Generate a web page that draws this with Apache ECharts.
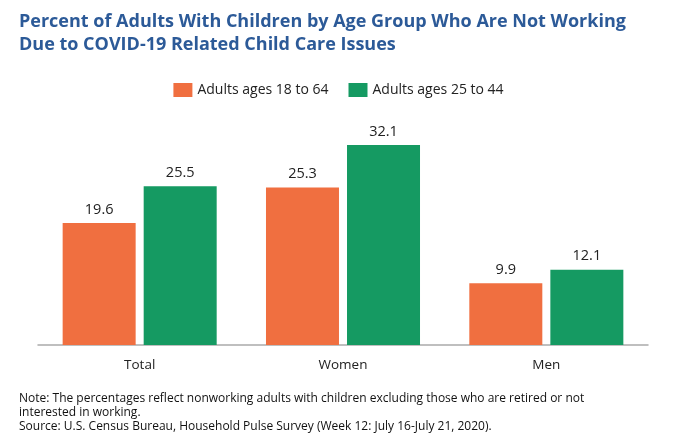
<!DOCTYPE html>
<html>
<head>
<meta charset="utf-8">
<script src="https://cdn.jsdelivr.net/npm/echarts@6/dist/echarts.min.js"></script>
<style>html,body{margin:0;padding:0;background:#fff;}#c{width:677px;height:437px;}</style>
</head>
<body>
<div id="c"></div>
<script>
const categories = ['Total', 'Women', 'Men'];
const series1Name = 'Adults ages 18 to 64';
const series2Name = 'Adults ages 25 to 44';
const series1Values = [19.6, 25.3, 9.9];
const series2Values = [25.5, 32.1, 12.1];
const titleLines = ['Percent of Adults With Children by Age Group Who Are Not Working', 'Due to COVID-19 Related Child Care Issues'];
const noteLines = [
  'Note: The percentages reflect nonworking adults with children excluding those who are retired or not',
  'interested in working.',
  'Source: U.S. Census Bureau, Household Pulse Survey (Week 12: July 16-July 21, 2020).'
];
const font = '"Open Sans", "Liberation Sans", sans-serif';
const chart = echarts.init(document.getElementById('c'));
const labelStyle = {show: true, position: 'top', distance: 6, color: '#222', fontSize: 14.5, fontFamily: font, formatter: p => p.value.toFixed(1)};
chart.setOption({
  animation: false,
  backgroundColor: '#fff',
  title: [{
    text: titleLines.join('\n'),
    left: 14, top: 5,
    textStyle: {color: '#2c5a98', fontSize: 18, fontWeight: 'bold', fontFamily: font, lineHeight: 23}
  }, {
    text: noteLines.join('\n'),
    left: 14, top: 387,
    textStyle: {color: '#111', fontSize: 12, fontWeight: 'normal', fontFamily: font, lineHeight: 14}
  }],
  legend: {
    top: 78, left: 'center',
    itemWidth: 19, itemHeight: 14, itemGap: 20,
    icon: 'rect',
    textStyle: {color: '#222', fontSize: 14, fontFamily: font},
    data: [series1Name, series2Name]
  },
  grid: {left: 38, right: 29, top: 127, bottom: 92},
  xAxis: {
    type: 'category', data: categories,
    axisLine: {lineStyle: {color: '#aaa', width: 1.5}},
    axisTick: {show: false},
    axisLabel: {color: '#222', fontSize: 13.5, fontFamily: font, margin: 13}
  },
  yAxis: {type: 'value', min: 0, max: 35, show: false, splitLine: {show: false}},
  series: [{
    name: series1Name, type: 'bar', data: series1Values,
    barWidth: 73, barGap: '11%',
    itemStyle: {color: '#f06f40'}, label: labelStyle
  }, {
    name: series2Name, type: 'bar', data: series2Values,
    barWidth: 73,
    itemStyle: {color: '#159a62'}, label: labelStyle
  }]
});
</script>
</body>
</html>
